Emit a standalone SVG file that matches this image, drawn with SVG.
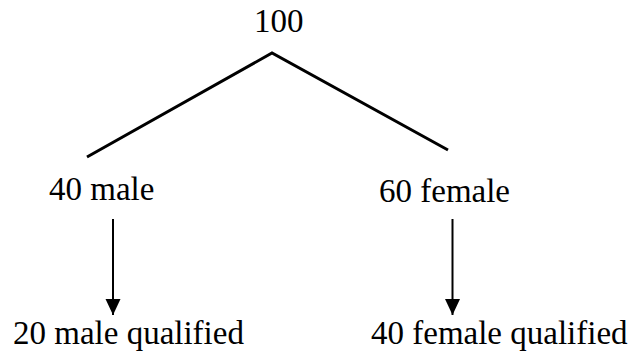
<svg xmlns="http://www.w3.org/2000/svg" width="632" height="354" viewBox="0 0 632 354">
  <style>
    .t { font-family: "Liberation Serif", "Times New Roman", serif; font-size: 33px; fill: #000; }
    .branch { stroke: #000; stroke-width: 3; fill: none; stroke-linejoin: miter; }
    .arrow { stroke: #000; stroke-width: 2; fill: none; }
  </style>
  <defs>
    <marker id="head" markerUnits="userSpaceOnUse" markerWidth="17" markerHeight="16" refX="16" refY="7.5" orient="auto">
      <path d="M0,0 L16,7.5 L0,15 z" fill="#000"/>
    </marker>
  </defs>
  <rect width="632" height="354" fill="#fff"/>
  <g id="connectors">
    <polyline class="branch" points="87,157 272,53 448,150"/>
    <line class="arrow" x1="113" y1="219" x2="113" y2="315" marker-end="url(#head)"/>
    <line class="arrow" x1="452.5" y1="219" x2="452.5" y2="315" marker-end="url(#head)"/>
  </g>
  <g id="root"><text class="t" x="254" y="32">100</text></g>
  <g id="male"><text class="t" x="49" y="200">40 male</text></g>
  <g id="female"><text class="t" x="379" y="202">60 female</text></g>
  <g id="male-qualified"><text class="t" x="13" y="344">20 male qualified</text></g>
  <g id="female-qualified"><text class="t" x="371" y="344">40 female qualified</text></g>
</svg>
